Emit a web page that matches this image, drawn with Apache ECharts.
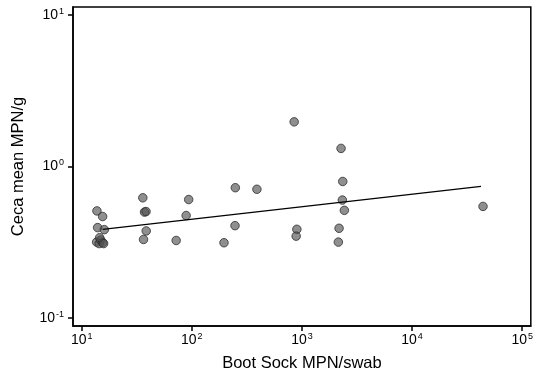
<!DOCTYPE html>
<html><head><meta charset="utf-8">
<script src="https://cdn.jsdelivr.net/npm/echarts@6/dist/echarts.min.js"></script>
<style>html,body{margin:0;padding:0;background:#fff}#c{width:536px;height:377px}</style>
</head><body><div id="c"></div>
<script>
// Boot sock MPN/swab (x) vs ceca mean MPN/g (y)
const bootSock = [13.76, 15.49, 35.9, 37.2, 38.4, 93.7, 88.8, 13.96, 16.05, 38.55, 36.44, 72.1, 196, 246.7, 248.3, 390, 850, 2265, 2347, 2327, 2426, 44060, 899, 886, 2173, 2141, 13.67, 14.4, 14.87, 15.49, 14.56, 15.82];
const cecaMean = [0.508, 0.4665, 0.62, 0.499, 0.503, 0.604, 0.4735, 0.394, 0.382, 0.3745, 0.329, 0.324, 0.313, 0.406, 0.723, 0.706, 1.969, 1.315, 0.795, 0.599, 0.5125, 0.544, 0.384, 0.346, 0.39, 0.316, 0.316, 0.309, 0.326, 0.314, 0.338, 0.309];
// fitted trend line end points
const trendX = [15.5, 42270];
const trendY = [0.384, 0.738];
// tick labels
const xTickValues = [10, 100, 1000, 10000, 100000];
const xTickExps = ['1', '2', '3', '4', '5'];
const yTickValues = [0.1, 1, 10];
const yTickExps = ['-1', '0', '1'];

const chart = echarts.init(document.getElementById('c'), null, {renderer: 'canvas'});
const font = 'Liberation Sans, Arial, sans-serif';
const rich = {
  b: {fontSize: 14, fontFamily: font, color: '#000', lineHeight: 16},
  s: {fontSize: 9, fontFamily: font, color: '#000', lineHeight: 16, verticalAlign: 'top', padding: [0, 0, 6, 1]}
};
function fmt(vals, exps) {
  return function (v) {
    let i = vals.findIndex(t => Math.abs(Math.log10(t) - Math.log10(v)) < 1e-6);
    return i < 0 ? '' : '{b|10}{s|' + exps[i] + '}';
  };
}
const scatterData = bootSock.map((x, i) => [x, cecaMean[i]]);
const trendData = trendX.map((x, i) => [x, trendY[i]]);

chart.setOption({
  animation: false,
  backgroundColor: '#fff',
  grid: {left: 73, right: 4, top: 7, bottom: 45, show: true, borderColor: '#000', borderWidth: 1.5, containLabel: false},
  xAxis: {
    type: 'log', logBase: 10, min: 8.34, max: 119700,
    name: 'Boot Sock MPN/swab', nameLocation: 'middle', nameGap: 29,
    nameTextStyle: {fontSize: 16.5, fontFamily: font, color: '#000'},
    axisLine: {show: true, lineStyle: {color: '#000', width: 1.5}},
    axisTick: {show: true, inside: false, length: 5, customValues: xTickValues, lineStyle: {color: '#000', width: 1.5}},
    axisLabel: {customValues: xTickValues, formatter: fmt(xTickValues, xTickExps), rich: rich, margin: 6},
    splitLine: {show: false}, minorTick: {show: false}
  },
  yAxis: {
    type: 'log', logBase: 10, min: 0.0882, max: 11.3,
    name: 'Ceca mean MPN/g', nameLocation: 'middle', nameGap: 46, nameRotate: 90,
    nameTextStyle: {fontSize: 16.5, fontFamily: font, color: '#000'},
    axisLine: {show: true, lineStyle: {color: '#000', width: 1.5}},
    axisTick: {show: true, inside: false, length: 5, customValues: yTickValues, lineStyle: {color: '#000', width: 1.5}},
    axisLabel: {customValues: yTickValues, formatter: fmt(yTickValues, yTickExps), rich: rich, margin: 9},
    splitLine: {show: false}, minorTick: {show: false}
  },
  series: [
    {
      type: 'scatter', data: scatterData, symbol: 'circle', symbolSize: 8.5,
      itemStyle: {color: 'rgba(80,80,80,0.8)', borderColor: '#2e2e2e', borderWidth: 1}
    },
    {
      type: 'line', data: trendData, symbol: 'none', silent: true,
      lineStyle: {color: '#000', width: 1.3}
    }
  ]
});
</script></body></html>
